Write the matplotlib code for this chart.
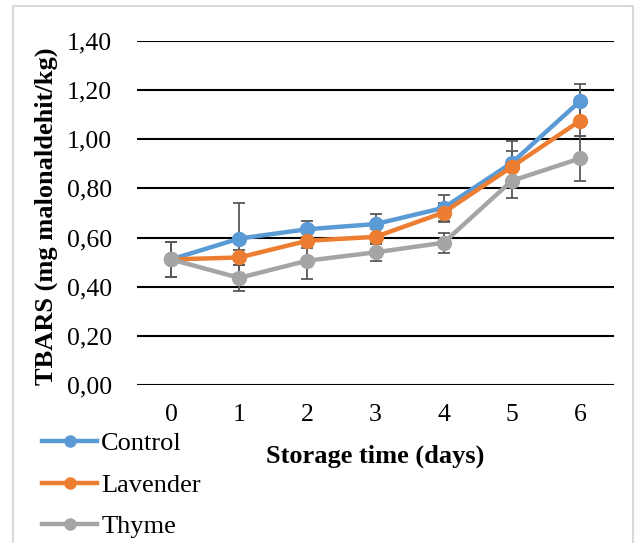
import numpy as np
import matplotlib.pyplot as plt
from matplotlib.patches import Rectangle
from matplotlib.lines import Line2D

days = [0, 1, 2, 3, 4, 5, 6]

control = [0.511, 0.596, 0.634, 0.655, 0.721, 0.904, 1.155]
lavender = [0.511, 0.519, 0.587, 0.603, 0.702, 0.888, 1.075]
thyme = [0.511, 0.436, 0.506, 0.540, 0.579, 0.831, 0.922]

control_err = [0.07, 0.143, 0.033, 0.04, 0.054, 0.09, 0.072]
lavender_err = [0.07, 0.031, 0.03, 0.03, 0.04, 0.063, 0.06]
thyme_err = [0.07, 0.053, 0.076, 0.036, 0.04, 0.069, 0.09]

yticks = [0.0, 0.2, 0.4, 0.6, 0.8, 1.0, 1.2, 1.4]
ytick_labels = ["0,00", "0,20", "0,40", "0,60", "0,80", "1,00", "1,20", "1,40"]

series = [
    ("Control", control, control_err, "#5B9BD5"),
    ("Lavender", lavender, lavender_err, "#ED7D31"),
    ("Thyme", thyme, thyme_err, "#A5A5A5"),
]

plt.rcParams['font.family'] = ['Liberation Serif', 'DejaVu Serif']

fig = plt.figure(figsize=(6.36, 5.43), dpi=100)
ax = fig.add_axes([137 / 636, 1 - 385 / 543, 477 / 636, 344 / 543])

# chart border
fig.patches.append(Rectangle((13 / 636, -0.05), 620 / 636, 1 - 6 / 543 + 0.05,
                             transform=fig.transFigure, fill=False,
                             edgecolor="#D9D9D9", linewidth=1.5))

for name, vals, err, col in series:
    ax.errorbar(days, vals, yerr=err, fmt="none", ecolor="#595959",
                elinewidth=1.3, capsize=4, capthick=1.3, zorder=2)

handles = []
for name, vals, err, col in series:
    ax.plot(days, vals, color=col, linewidth=3.2, marker="o",
            markersize=10, zorder=3)
    handles.append(Line2D([], [], color=col, linewidth=3.2, marker="o",
                          markersize=8, label=name))

ax.set_xlim(-0.5, 6.5)
ax.set_ylim(0, 1.4)
ax.set_yticks(yticks)
ax.set_yticklabels(ytick_labels)
ax.set_xticks(days)
ax.yaxis.grid(True, color="black", linewidth=1.5)
ax.set_axisbelow(True)
for s in ax.spines.values():
    s.set_visible(False)
ax.tick_params(axis="both", length=0, labelsize=18.5)
ax.tick_params(axis="y", pad=18)
ax.tick_params(axis="x", pad=14)

fig.text(375 / 636, 1 - 456 / 543, "Storage time (days)", ha="center",
         va="center", fontsize=19, fontweight="bold")
fig.text(46 / 636, 1 - 216 / 543, "TBARS (mg malonaldehit/kg)", ha="center",
         va="center", rotation=90, fontsize=19, fontweight="bold")

fig.legend(handles=handles, loc="upper left", bbox_to_anchor=(42 / 636, 1 - 432 / 543),
           frameon=False, fontsize=19, handlelength=2.1, handletextpad=0.15,
           labelspacing=0.68, borderaxespad=0, borderpad=0)

fig.savefig("out.png", dpi=100)
